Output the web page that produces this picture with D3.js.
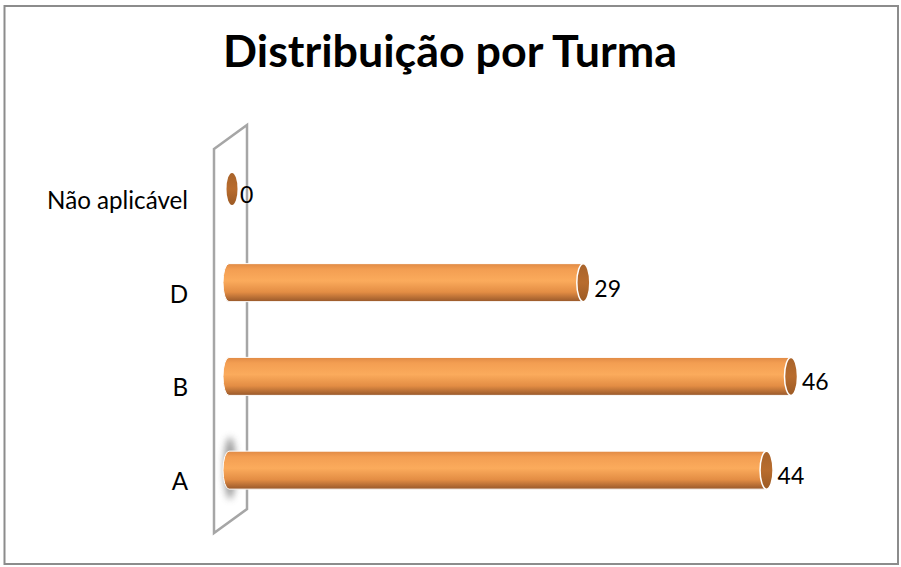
<!DOCTYPE html>
<html lang="pt">
<head>
<meta charset="UTF-8">
<title>Distribuição por Turma</title>
<script src="https://d3js.org/d3.v7.min.js"></script>
<style>
    body { margin: 0; padding: 0; background: #fff; font-family: 'Lato', sans-serif; }
    svg { display: block; }
</style>
</head>
<body>
<script>
    const categories = ["Não aplicável", "D", "B", "A"];
    const values = [0, 29, 46, 44];
    const title = "Distribuição por Turma";

    const W = 901, H = 567;
    const svg = d3.select("body").append("svg").attr("width", W).attr("height", H);

    const defs = svg.append("defs");
    const grad = defs.append("linearGradient").attr("id", "barGrad")
        .attr("x1", 0).attr("y1", 0).attr("x2", 0).attr("y2", 1);
    [[0, "#e08a45"], [0.15, "#f39e52"], [0.45, "#fbab5c"], [0.75, "#e38d44"], [1, "#98582a"]]
        .forEach(s => grad.append("stop").attr("offset", s[0]).attr("stop-color", s[1]));
    const capGrad = defs.append("linearGradient").attr("id", "capGrad")
        .attr("x1", 0).attr("y1", 0).attr("x2", 0).attr("y2", 1);
    [[0, "#a8632a"], [0.5, "#b86c2e"], [1, "#9c5a24"]]
        .forEach(s => capGrad.append("stop").attr("offset", s[0]).attr("stop-color", s[1]));
    const blur = defs.append("filter").attr("id", "shadow")
        .attr("x", "-150%").attr("y", "-50%").attr("width", "400%").attr("height", "200%");
    blur.append("feGaussianBlur").attr("stdDeviation", 3.5);

    // frame
    svg.append("rect")
        .attr("x", 4.5).attr("y", 6).attr("width", 893.5).attr("height", 558)
        .attr("fill", "#fff").attr("stroke", "#8c8c8c").attr("stroke-width", 2);

    // title
    const t = svg.append("text")
        .attr("x", 450).attr("y", 67)
        .attr("text-anchor", "middle")
        .attr("font-weight", 700)
        .attr("font-size", 36)
        .attr("fill", "#000")
        .text(title);
    const tw = t.node().getComputedTextLength();
    t.attr("font-size", 36 * 454 / tw);

    const x = d3.scaleLinear().domain([0, 46]).range([229, 791]);
    const y = d3.scaleBand().domain(categories).range([142, 517]).paddingInner(0.6).paddingOuter(0.3);
    const bh = 38;
    const cy = d => y(d) + y.bandwidth() / 2;

    // back wall (3d plane)
    const x0 = x(0);
    const wall = [[x0 - 15, 149], [x0 + 18, 125], [x0 + 18, 509], [x0 - 15, 533]];
    svg.append("path")
        .attr("d", d3.line()(wall) + "Z")
        .attr("fill", "#fff")
        .attr("stroke", "#a6a6a6")
        .attr("stroke-width", 2.5);

    const data = categories.map((c, i) => ({ c, v: values[i] }));

    // faint shadow of the lowest bar on the wall
    const last = data[data.length - 1];
    svg.append("ellipse")
        .attr("cx", x0 + 1).attr("cy", cy(last.c) - 2)
        .attr("rx", 6).attr("ry", bh / 2 + 12)
        .attr("fill", "#777").attr("opacity", 0.75)
        .attr("filter", "url(#shadow)");

    const g = svg.append("g");
    data.forEach(d => {
        const c = cy(d.c);
        if (d.v === 0) {
            g.append("ellipse")
                .attr("cx", x0 + 3).attr("cy", c)
                .attr("rx", 5.5).attr("ry", 16)
                .attr("fill", "url(#capGrad)");
            return;
        }
        const xe = x(d.v);
        // body
        g.append("path")
            .attr("d", `M${x0},${c - bh / 2} L${xe},${c - bh / 2} L${xe},${c + bh / 2} L${x0},${c + bh / 2}` +
                ` A6,${bh / 2} 0 0 1 ${x0},${c - bh / 2} Z`)
            .attr("fill", "url(#barGrad)")
            .attr("stroke", "#fff").attr("stroke-width", 1);
        // end cap
        g.append("ellipse")
            .attr("cx", xe).attr("cy", c)
            .attr("rx", 6.5).attr("ry", bh / 2)
            .attr("fill", "url(#capGrad)")
            .attr("stroke", "#fff").attr("stroke-width", 1.5);
    });

    // value labels
    svg.append("g").selectAll("text").data(data).join("text")
        .attr("x", d => d.v === 0 ? x0 + 11 : x(d.v) + 11)
        .attr("y", d => cy(d.c) + 14)
        .attr("font-size", 23)
        .attr("fill", "#000")
        .text(d => d.v);

    // category labels, sized so the longest one matches the original width
    const cl = svg.append("g").selectAll("text").data(categories).join("text")
        .attr("x", 188)
        .attr("y", d => cy(d) + 20)
        .attr("text-anchor", "end")
        .attr("font-size", 20)
        .attr("fill", "#000")
        .text(d => d);
    const lw = d3.max(cl.nodes(), n => n.getComputedTextLength());
    cl.attr("font-size", 20 * 141 / lw);
</script>
</body>
</html>
